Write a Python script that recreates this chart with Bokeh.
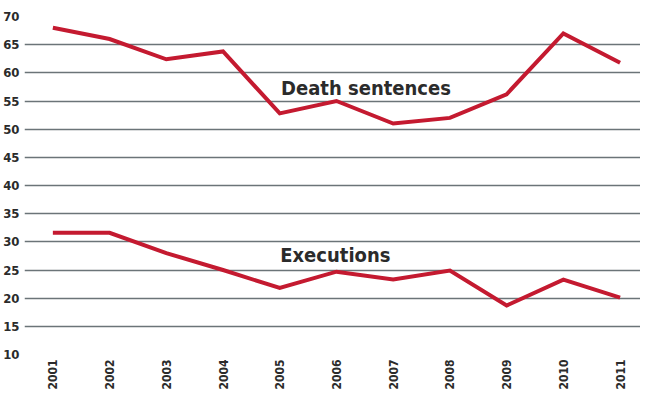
import math
from bokeh.plotting import figure
from bokeh.models import FixedTicker, Label, ColumnDataSource
from bokeh.embed import file_html
from bokeh.resources import INLINE

years = [2001, 2002, 2003, 2004, 2005, 2006, 2007, 2008, 2009, 2010, 2011]
death_sentences = [68, 66, 62.4, 63.8, 52.8, 55, 51, 52, 56.2, 67, 61.8]
executions = [31.6, 31.6, 28, 25, 21.8, 24.7, 23.3, 24.9, 18.7, 23.3, 20.1]
y_ticks = [10, 15, 20, 25, 30, 35, 40, 45, 50, 55, 60, 65, 70]

FONT = "DejaVu Sans Condensed"
RED = "#c41a30"
GRID = "#6b7478"

p = figure(width=640, height=392, output_backend="svg", toolbar_location=None,
           x_range=(2000.5, 2011.36), y_range=(10, 70),
           min_border_left=21, min_border_right=0, min_border_top=16, min_border_bottom=36)
p.outline_line_color = None
p.background_fill_color = "white"
p.border_fill_color = "white"

p.xgrid.grid_line_color = None
p.ygrid.grid_line_color = GRID
p.ygrid.grid_line_width = 1.6
p.ygrid.ticker = FixedTicker(ticks=y_ticks)

p.yaxis.ticker = FixedTicker(ticks=y_ticks)
p.xaxis.ticker = FixedTicker(ticks=years)
for ax in (p.xaxis[0], p.yaxis[0]):
    ax.axis_line_color = None
    ax.major_tick_line_color = None
    ax.minor_tick_line_color = None
    ax.major_tick_out = 0
    ax.major_tick_in = 0
    ax.minor_tick_out = 0
    ax.minor_tick_in = 0
    ax.major_label_text_font = FONT
    ax.major_label_text_font_style = "bold"
    ax.major_label_text_color = "#2b2b2b"
p.yaxis.major_label_text_font_size = "13px"
p.yaxis.major_label_standoff = 5
p.xaxis.major_label_text_font_size = "12px"
p.xaxis.major_label_orientation = math.pi / 2
p.xaxis.major_label_standoff = 5

src = ColumnDataSource(dict(x=years, d=death_sentences, e=executions))
p.line("x", "d", source=src, line_color=RED, line_width=4, line_join="miter")
p.line("x", "e", source=src, line_color=RED, line_width=4, line_join="miter")

p.add_layout(Label(x=2006.52, y=57.3, text="Death sentences", text_font=FONT,
                   text_font_style="bold", text_font_size="20px", text_color="#2b2b2b",
                   text_align="center", text_baseline="alphabetic"))
p.add_layout(Label(x=2005.98, y=27.7, text="Executions", text_font=FONT,
                   text_font_style="bold", text_font_size="20px", text_color="#2b2b2b",
                   text_align="center", text_baseline="alphabetic"))

open("out.html", "w").write(file_html(p, INLINE))
